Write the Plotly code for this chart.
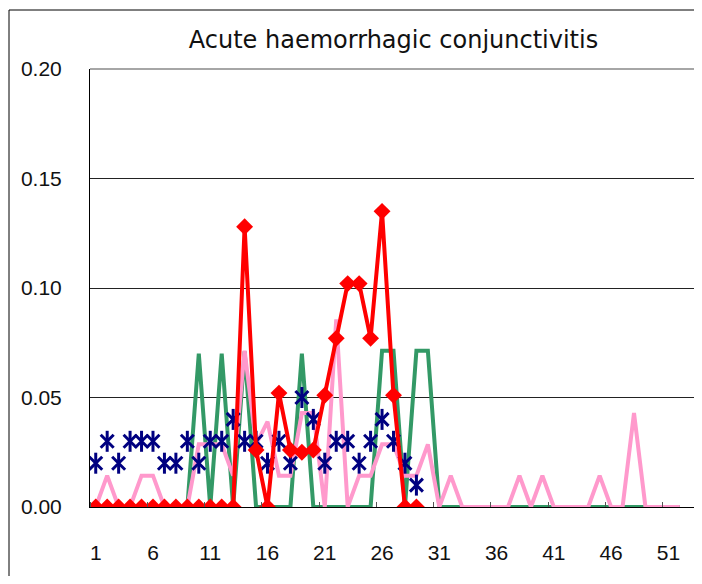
import plotly.graph_objects as go

weeks_all = list(range(1, 53))
weeks_cur = list(range(1, 30))

red_vals = [0, 0, 0, 0, 0, 0, 0, 0, 0, 0, 0, 0, 0, 0.128, 0.026, 0, 0.052, 0.026, 0.025, 0.026,
            0.051, 0.077, 0.102, 0.102, 0.077, 0.135, 0.051, 0, 0]
blue_vals = [0.02, 0.03, 0.02, 0.03, 0.03, 0.03, 0.02, 0.02, 0.03, 0.02, 0.03, 0.03, 0.04, 0.03, 0.03,
             0.02, 0.03, 0.02, 0.05, 0.04, 0.02, 0.03, 0.03, 0.02, 0.03, 0.04, 0.03, 0.02, 0.01]
green_vals = [0, 0, 0, 0, 0, 0, 0, 0, 0, 0.070, 0, 0.070, 0, 0.071, 0, 0, 0, 0, 0.070, 0,
              0, 0, 0, 0, 0, 0.0714, 0.0714, 0, 0.0714, 0.0714, 0, 0, 0, 0, 0, 0, 0, 0, 0, 0,
              0, 0, 0, 0, 0, 0, 0, 0, 0, 0, 0, 0]
pink_vals = [0, 0.0143, 0, 0, 0.0143, 0.0143, 0, 0, 0, 0.0286, 0.0286, 0.0286, 0.0143, 0.0714,
             0.0286, 0.039, 0.0143, 0.0143, 0.0429, 0.0429, 0, 0.0857, 0, 0.0143, 0.0143, 0.0286,
             0.0286, 0.0143, 0.0143, 0.0286, 0, 0.0143, 0, 0, 0, 0, 0, 0.0143, 0, 0.0143, 0, 0,
             0, 0, 0.0143, 0, 0, 0.0429, 0, 0, 0, 0]

x_tick_vals = [1, 6, 11, 16, 21, 26, 31, 36, 41, 46, 51]
y_tick_vals = [0, 0.05, 0.10, 0.15, 0.20]
y_tick_text = ["0.00", "0.05", "0.10", "0.15", "0.20"]
title_text = "Acute haemorrhagic conjunctivitis"

FONT = "Liberation Sans, Arial, sans-serif"
TFONT = "DejaVu Sans, sans-serif"

fig = go.Figure()
fig.add_trace(go.Scatter(x=weeks_all, y=green_vals, mode="lines",
                         line=dict(color="#339966", width=4), showlegend=False))
fig.add_trace(go.Scatter(x=weeks_all, y=pink_vals, mode="lines",
                         line=dict(color="#FF99CC", width=4), showlegend=False))
fig.add_trace(go.Scatter(x=weeks_cur, y=blue_vals, mode="markers",
                         marker=dict(symbol="x-thin-open", size=13, color="#000080",
                                     line=dict(color="#000080", width=3)), showlegend=False))
fig.add_trace(go.Scatter(x=weeks_cur, y=blue_vals, mode="markers",
                         marker=dict(symbol="line-ns-open", size=15, color="#000080",
                                     line=dict(color="#000080", width=3)), showlegend=False))
fig.add_trace(go.Scatter(x=weeks_cur, y=red_vals, mode="lines+markers",
                         line=dict(color="#FF0000", width=4),
                         marker=dict(symbol="diamond", size=13, color="#FF0000"), showlegend=False))

# page has an 8px body margin; figure sized so the page shows no scrollbars
OFF = 8
W, H = 702 - OFF, 584 - 2 * OFF
ml, mt = 90 - OFF, 69 - OFF
mr = W - (697 - OFF)
mb = H - (507 - OFF)
pw, ph = W - ml - mr, H - mt - mb

fig.update_layout(
    width=W, height=H,
    margin=dict(l=ml, r=mr, t=mt, b=mb, autoexpand=False),
    paper_bgcolor="white", plot_bgcolor="white",
    title=dict(text=title_text, x=0.5, xref="paper", xanchor="center",
               y=1 - (40 - OFF) / H, yanchor="middle",
               font=dict(family=TFONT, size=24, color="#111")),
    font=dict(family=FONT, size=21, color="#111"),
    xaxis=dict(range=[0.5, 53.5], tickvals=x_tick_vals, ticks="", showgrid=False,
               zeroline=False, showline=True, linecolor="#000", linewidth=1,
               ticklabelstandoff=27, automargin=False,
               minor=dict(tick0=0.5, dtick=5, ticks="inside", ticklen=5,
                          tickcolor="#555", showgrid=False),
               tickfont=dict(family=FONT, size=21, color="#111")),
    yaxis=dict(range=[0, 0.2], tickvals=y_tick_vals, ticktext=y_tick_text, ticks="",
               showgrid=True, gridcolor="#222", gridwidth=1, zeroline=False,
               showline=True, linecolor="#000", linewidth=1, ticklabelstandoff=23,
               automargin=False,
               tickfont=dict(family=FONT, size=21, color="#111")),
    shapes=[
        dict(type="line", xref="paper", yref="paper", x0=0, x1=1, y0=1, y1=1,
             line=dict(color="#888", width=1.5)),
        dict(type="line", xref="paper", yref="paper", x0=1, x1=1, y0=0, y1=1,
             line=dict(color="#888", width=1.5)),
        dict(type="rect", xref="paper", yref="paper",
             x0=(1 - ml) / pw, x1=(W + 20 - ml) / pw,
             y0=-(mb + 20) / ph, y1=(mt + ph - 2) / ph,
             line=dict(color="#000", width=1)),
    ],
)

fig.write_html("out.html")
